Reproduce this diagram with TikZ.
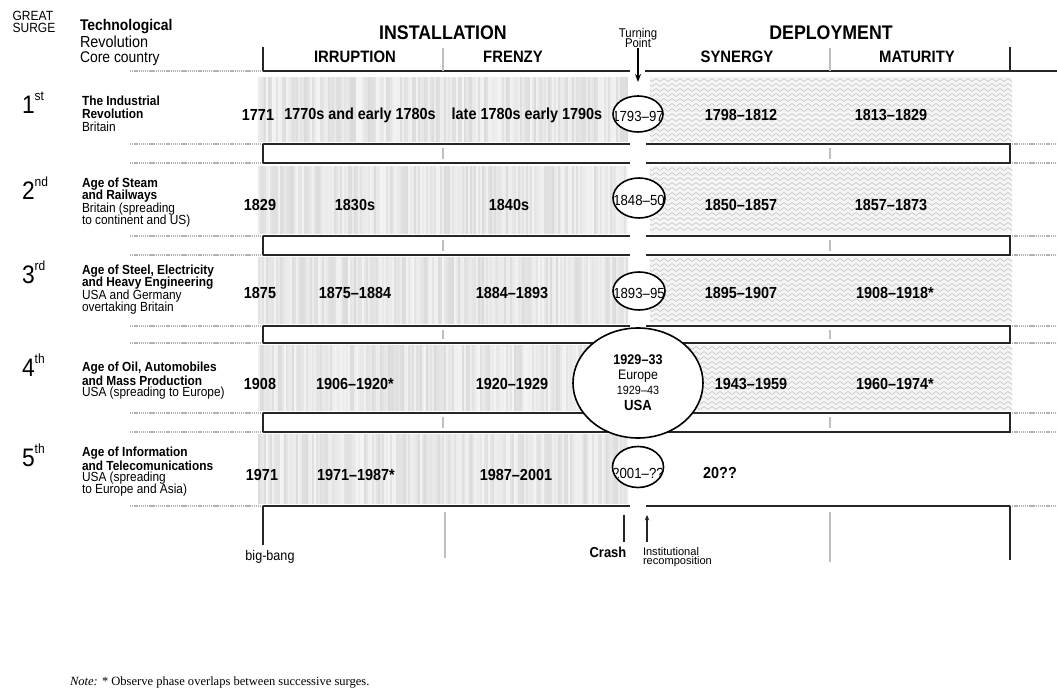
\documentclass[tikz,border=0pt]{standalone}
\usepackage{fontspec}
\setmainfont{Liberation Sans}[FakeStretch=0.9]
\newfontfamily\plainsans{Liberation Sans}
\newfontfamily\notefont{Liberation Serif}
\usetikzlibrary{shapes.geometric,decorations.pathmorphing,arrows.meta}
\newcommand{\myfs}[1]{\fontsize{#1}{#1}\selectfont}
\tikzset{
  every node/.style={inner sep=0pt, outer sep=0pt},
  hdr/.style={font=\myfs{14.8}\bfseries},
  phase/.style={font=\myfs{12.4}\bfseries},
  date/.style={font=\myfs{12}\bfseries},
  ttl/.style={font=\myfs{9.9}\bfseries, anchor=west},
  ctry/.style={font=\myfs{9.9}, anchor=west},
  ord/.style={anchor=west},
  blk/.style={line width=1.4pt, black!85},
  gdot/.style={line width=1.6pt, gray!60, dash pattern=on 1pt off 0.6pt},
  gtick/.style={line width=0.8pt, gray!50},
  tick/.style={line width=1.4pt, black!85},
  tpell/.style={ellipse, draw, line width=1.2pt, fill=white},
  etxt/.style={font=\myfs{11}},
  ctxt/.style={font=\myfs{10.5}\bfseries},
  zig/.style={decorate, decoration={zigzag, segment length=6pt, amplitude=1.1pt}, gray!50, line width=0.4pt},
  arr/.style={-{Stealth[length=6pt,width=4.5pt]}, line width=1pt},
}
\begin{document}
\begin{tikzpicture}[x=0.75pt,y=-0.75pt]
\fill[white] (0,0) rectangle (1057,691);
\useasboundingbox (0,0) rectangle (1057,691);

% ---------- installation shading (vertical streaks)
\pgfmathsetseed{12}
\foreach \ya/\yb in {77/142,166/234,257/324,345/411,434/504}{
  \fill[gray!12] (258,\ya) rectangle (628,\yb);
  \foreach \x in {259,261,...,627}{
    \pgfmathtruncatemacro\gv{9+20*rnd}
    \draw[gray!\gv, line width=1.1pt] (\x,\ya) -- (\x,\yb);
  }
}
% ---------- deployment shading (zigzag)
\foreach \ya/\yb in {77/142,166/234,257/324,345/411}{
  \begin{scope}
    \clip (650,\ya) rectangle (1012,\yb);
    \fill[gray!8] (650,\ya) rectangle (1012,\yb);
    \pgfmathtruncatemacro\nz{(\yb-\ya-4)/5}
    \foreach \k in {0,...,\nz}{
      \draw[zig] (646,{\ya+3+\k*5}) -- (1016,{\ya+3+\k*5});
    }
  \end{scope}
}

% ---------- header line and ticks
\draw[gdot] (130,71) -- (263,71);
\draw[blk] (263,71) -- (630,71);
\draw[blk] (645,71) -- (1057,71);
\draw[tick] (263,47) -- (263,71);
\draw[tick] (1010,47) -- (1010,71);
\draw[gtick] (443,48) -- (443,71);
\draw[gtick] (830,48) -- (830,71);

% ---------- strips between rows
\foreach \t/\b in {144/163,236/255,326/343,413/432}{
  \draw[gdot] (130,\t) -- (263,\t);
  \draw[gdot] (130,\b) -- (263,\b);
  \draw[gdot] (1010,\t) -- (1057,\t);
  \draw[gdot] (1010,\b) -- (1057,\b);
  \draw[gtick] (443,{\t+4}) -- (443,{\b-4});
  \draw[gtick] (830,{\t+4}) -- (830,{\b-4});
  \draw[blk] (263,\t) -- (630,\t);
  \draw[blk] (263,\b) -- (630,\b);
  \draw[blk] (263,\t) -- (263,\b);
  \draw[blk] (646,\t) -- (1010,\t) -- (1010,\b) -- (646,\b);
}

% ---------- bottom line and ticks
\draw[gdot] (130,506) -- (263,506);
\draw[blk] (263,506) -- (630,506);
\draw[blk] (646,506) -- (1010,506);
\draw[gdot] (1010,506) -- (1057,506);
\draw[tick] (263,506) -- (263,545);
\draw[gtick] (445,512) -- (445,558);
\draw[gtick] (830,512) -- (830,562);
\draw[tick] (1010,506) -- (1010,560);

% ---------- header texts
\node[font=\myfs{10}] (gs) at (34,24) {\begin{tabular}{@{}l@{}}GREAT\\[-1pt]SURGE\end{tabular}};
\node[anchor=west, font=\myfs{11.6}\bfseries] (h1) at (80,26.5) {Technological};
\node[anchor=west, font=\myfs{12}] (h2) at (80,41.5) {Revolution};
\node[anchor=west, font=\myfs{11.6}] (h3) at (80,58.5) {Core country};
\node[hdr] (inst) at (443,33) {INSTALLATION};
\node[hdr] (depl) at (831,33) {DEPLOYMENT};
\node[phase] (irr) at (355,57) {IRRUPTION};
\node[phase] (fre) at (513,57) {FRENZY};
\node[phase] (syn) at (737,57) {SYNERGY};
\node[phase] (mat) at (917,57) {MATURITY};
\node[font=\myfs{9.5}, align=center] (tp) at (638,38) {Turning\\[-1.5pt]Point};
\coordinate (tpend) at (638,82);
\draw[arr] (tp) -- (tpend);

% ---------- row labels
\node[ord] (o1) at (22,103) {\myfs{19}1\raisebox{0.5em}{\myfs{10}st}};
\node[ttl] (l1a) at (82,101) {The Industrial};
\node[ttl] (l1b) at (82,114) {Revolution};
\node[ctry] (l1c) at (82,127) {Britain};

\node[ord] (o2) at (22,188) {\myfs{19}2\raisebox{0.5em}{\myfs{10}nd}};
\node[ttl] (l2a) at (82,184) {Age of Steam};
\node[ttl] (l2b) at (82,196.5) {and Railways};
\node[ctry] (l2c) at (82,209) {Britain (spreading};
\node[ctry] (l2d) at (82,221.5) {to continent and US)};

\node[ord] (o3) at (22,272) {\myfs{19}3\raisebox{0.5em}{\myfs{10}rd}};
\node[ttl] (l3a) at (82,271) {Age of Steel, Electricity};
\node[ttl] (l3b) at (82,283.5) {and Heavy Engineering};
\node[ctry] (l3c) at (82,296) {USA and Germany};
\node[ctry] (l3d) at (82,308.5) {overtaking Britain};

\node[ord] (o4) at (22,365) {\myfs{19}4\raisebox{0.5em}{\myfs{10}th}};
\node[ttl] (l4a) at (82,368) {Age of Oil, Automobiles};
\node[ttl] (l4b) at (82,380.5) {and Mass Production};
\node[ctry] (l4c) at (82,393) {USA (spreading to Europe)};

\node[ord] (o5) at (22,455) {\myfs{19}5\raisebox{0.5em}{\myfs{10}th}};
\node[ttl] (l5a) at (82,453) {Age of Information};
\node[ttl] (l5b) at (82,465.5) {and Telecomunications};
\node[ctry] (l5c) at (82,478) {USA (spreading};
\node[ctry] (l5d) at (82,490.5) {to Europe and Asia)};

% ---------- turning point ellipses
\node[tpell, minimum width=37.5pt, minimum height=27pt] (e1) at (638,114) {};
\begin{scope}\clip (638,114) ellipse [x radius=24, y radius=17];
  \node[etxt] (t1) at (638,116) {1793--97};\end{scope}
\node[tpell, minimum width=39pt, minimum height=30pt] (e2) at (639,198) {};
\begin{scope}\clip (639,198) ellipse [x radius=25, y radius=19];
  \node[etxt] (t2) at (639,200) {1848--50};\end{scope}
\node[tpell, minimum width=39pt, minimum height=28.5pt] (e3) at (639,291) {};
\begin{scope}\clip (639,291) ellipse [x radius=25, y radius=18];
  \node[etxt] (t3) at (639,293) {1893--95};\end{scope}
\node[tpell, minimum width=97.5pt, minimum height=82.5pt] (e4) at (638,383) {};
\node[ctxt] (c1) at (638,360) {1929--33};
\node[font=\myfs{10.3}] (c2) at (638,376) {Europe};
\node[font=\myfs{9}] (c3) at (638,390) {1929--43};
\node[font=\myfs{11}\bfseries] (c4) at (638,405) {USA};
\node[tpell, minimum width=38.25pt, minimum height=30.75pt] (e5) at (638,467) {};
\begin{scope}\clip (638,467) ellipse [x radius=24, y radius=20];
  \node[etxt] (t5) at (638,473) {2001--??};\end{scope}

% ---------- dates
\node[date] (d11) at (258,115) {1771};
\node[date] (d12) at (360,115) {1770s and early 1780s};
\node[date] (d13) at (527,115) {late 1780s early 1790s};
\node[date] (d14) at (741,115) {1798--1812};
\node[date] (d15) at (891,115) {1813--1829};

\node[date] (d21) at (260,205) {1829};
\node[date] (d22) at (355,205) {1830s};
\node[date] (d23) at (509,205) {1840s};
\node[date] (d24) at (741,205) {1850--1857};
\node[date] (d25) at (891,205) {1857--1873};

\node[date] (d31) at (260,293) {1875};
\node[date] (d32) at (355,293) {1875--1884};
\node[date] (d33) at (512,293) {1884--1893};
\node[date] (d34) at (741,293) {1895--1907};
\node[date] (d35) at (895,293) {1908--1918*};

\node[date] (d41) at (260,384) {1908};
\node[date] (d42) at (355,384) {1906--1920*};
\node[date] (d43) at (512,384) {1920--1929};
\node[date] (d44) at (751,384) {1943--1959};
\node[date] (d45) at (895,384) {1960--1974*};

\node[date] (d51) at (262,475) {1971};
\node[date] (d52) at (356,475) {1971--1987*};
\node[date] (d53) at (516,475) {1987--2001};
\node[date] (d54) at (720,473) {20??};

% ---------- bottom labels
\node[font=\myfs{10.5}] (bb) at (270,557) {big-bang};
\coordinate (crtop) at (624,515);
\node[font=\myfs{10.8}\bfseries] (cr) at (608,552) {Crash};
\draw[tick] (crtop) -- (624,542);
\node[anchor=north west, align=left, font=\plainsans\myfs{8.3}] (ir) at (643,547) {Institutional\\[-1.5pt]recomposition};
\coordinate (irbase) at (647,542);
\coordinate (irtip) at (647,515);
\draw[-{Stealth[length=4pt,width=3.5pt]}, line width=1.2pt, black!85] (irbase) -- (irtip);

% ---------- note
\node[anchor=west, font=\notefont\myfs{9.4}] (note) at (70,683) {\textit{Note:} * Observe phase overlaps between successive surges.};
\end{tikzpicture}
\end{document}
